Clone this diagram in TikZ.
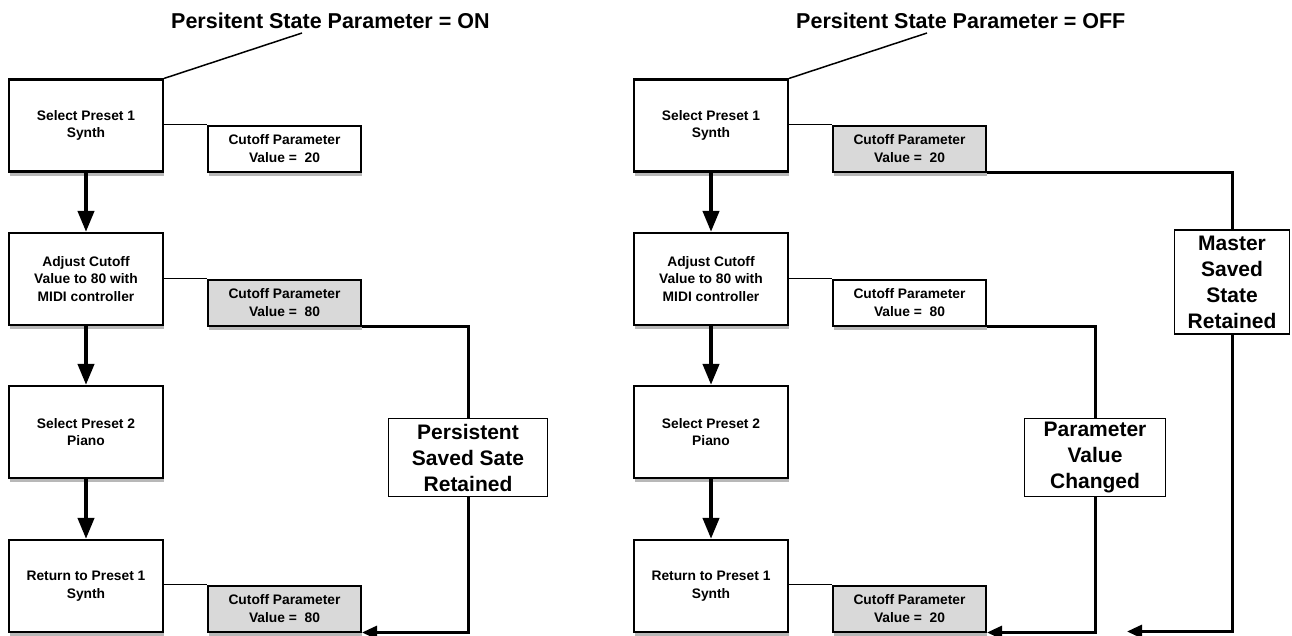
\documentclass[tikz,border=0pt]{standalone}
\usepackage{fontspec}
\setmainfont{Liberation Sans}
\usetikzlibrary{arrows.meta,shadows,calc}
\definecolor{boxgray}{RGB}{217,217,217}
\begin{document}
\begin{tikzpicture}[x=1pt,y=-1pt,
  shade box/.style={drop shadow={shadow xshift=1pt, shadow yshift=-4pt, fill=black, opacity=0.28}},
  stepbox/.style={draw, line width=2.2pt, fill=white, minimum width=154pt, minimum height=92pt,
    inner sep=0pt, align=center, font=\fontsize{13.8}{17.5}\selectfont\bfseries, shade box},
  valbox/.style={draw, line width=2pt, fill=white, minimum width=153pt, minimum height=46pt,
    inner sep=0pt, align=center, font=\fontsize{13.8}{17.5}\selectfont\bfseries, shade box},
  valgray/.style={valbox, fill=boxgray},
  labelbox/.style={draw, line width=1.6pt, fill=white, inner sep=0pt, align=center,
    font=\fontsize{21}{26}\selectfont\bfseries},
  titletext/.style={inner sep=0pt, font=\fontsize{21.5}{25}\selectfont\bfseries},
  thinline/.style={line width=1.5pt},
  flowarrow/.style={line width=4pt, -{Triangle[length=21pt,width=16pt]}},
  connline/.style={line width=3pt},
  connarrow/.style={line width=3pt, -{Triangle[length=15pt,width=13pt]}}
]
\useasboundingbox (0,0) rectangle (1292,635);

% ---------- left diagram ----------
\node[titletext, anchor=base west] (T1) at (171,28) {Persitent State Parameter = ON};
\coordinate (t1) at (302,33);

\node[stepbox] (A1) at (86,125.5) {Select Preset 1\\Synth};
\node[stepbox] (A2) at (86,279) {Adjust Cutoff\\Value to 80 with\\MIDI controller};
\node[stepbox] (A3) at (86,432) {Select Preset 2\\Piano};
\node[stepbox] (A4) at (86,586) {Return to Preset 1\\Synth};

\node[valbox]  (C1) at (284.5,148.5) {Cutoff Parameter\\Value =\ \ 20};
\node[valgray] (C2) at (284.5,302.5) {Cutoff Parameter\\Value =\ \ 80};
\node[valgray] (C4) at (284.5,608.5) {Cutoff Parameter\\Value =\ \ 80};

\node[labelbox, minimum width=159pt, minimum height=78pt] (L1) at (468,457.5) {Persistent\\Saved Sate\\Retained};

\draw[thinline] (t1) -- (A1.north east);
\draw[thinline] (A1.east |- C1.north) -- (C1.north west);
\draw[thinline] (A2.east |- C2.north) -- (C2.north west);
\draw[thinline] (A4.east |- C4.north) -- (C4.north west);

\draw[flowarrow] (A1) -- (A2);
\draw[flowarrow] (A2) -- (A3);
\draw[flowarrow] (A3) -- (A4);

\draw[connline] (C2.south east) -| (L1.north);
\draw[connarrow] (L1.south) |- (C4.south east);

% ---------- right diagram ----------
\node[titletext, anchor=base west] (T2) at (796,28) {Persitent State Parameter = OFF};
\coordinate (t2) at (927,33);

\node[stepbox] (B1) at (711,125.5) {Select Preset 1\\Synth};
\node[stepbox] (B2) at (711,279) {Adjust Cutoff\\Value to 80 with\\MIDI controller};
\node[stepbox] (B3) at (711,432) {Select Preset 2\\Piano};
\node[stepbox] (B4) at (711,586) {Return to Preset 1\\Synth};

\node[valgray] (D1) at (909.5,148.5) {Cutoff Parameter\\Value =\ \ 20};
\node[valbox]  (D2) at (909.5,302.5) {Cutoff Parameter\\Value =\ \ 80};
\node[valgray] (D4) at (909.5,608.5) {Cutoff Parameter\\Value =\ \ 20};

\node[labelbox, minimum width=141pt, minimum height=78pt] (P1) at (1095,457.5) {Parameter\\Value\\Changed};
\node[labelbox, minimum width=115pt, minimum height=104pt] (M1) at (1232,282) {Master\\Saved\\State\\Retained};
\coordinate (freeEnd) at (1127,631.5);

\draw[thinline] (t2) -- (B1.north east);
\draw[thinline] (B1.east |- D1.north) -- (D1.north west);
\draw[thinline] (B2.east |- D2.north) -- (D2.north west);
\draw[thinline] (B4.east |- D4.north) -- (D4.north west);

\draw[flowarrow] (B1) -- (B2);
\draw[flowarrow] (B2) -- (B3);
\draw[flowarrow] (B3) -- (B4);

\draw[connline] (D1.south east) -| (M1.north);
\draw[connarrow] (M1.south) |- (freeEnd);
\draw[connline] (D2.south east) -| (P1.north);
\draw[connarrow] (P1.south) |- (D4.south east);
\end{tikzpicture}
\end{document}
